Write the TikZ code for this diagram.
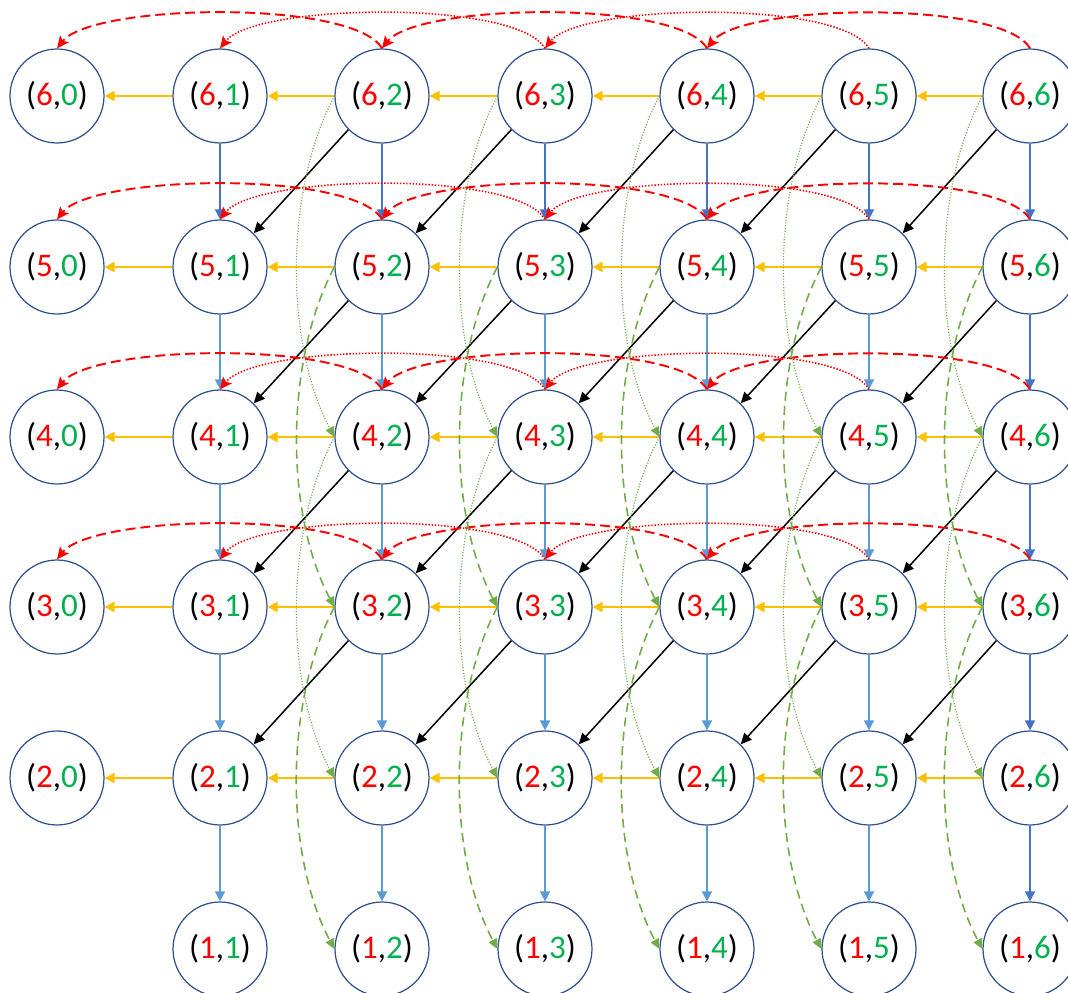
\documentclass[tikz,border=0pt]{standalone}
\usepackage{fontspec}
\setmainfont{Carlito}
\usetikzlibrary{arrows.meta}
\definecolor{cRed}{HTML}{FF0000}
\definecolor{cGreen}{HTML}{00B050}
\definecolor{cYel}{HTML}{FFC000}
\definecolor{cBlueD}{HTML}{4472C4}
\definecolor{cBlueL}{HTML}{5B9BD5}
\definecolor{cEdge}{HTML}{2F528F}
\definecolor{cGr}{HTML}{70AD47}
\newcommand\pl[2]{(\textcolor{cRed}{#1},\textcolor{cGreen}{#2})}
\begin{document}
\begin{tikzpicture}[x=0.02cm,y=0.02cm,
  st/.style={circle,draw=cEdge,line width=0.7pt,minimum size=1.88cm,inner sep=0pt,
    font=\fontsize{18.8}{20}\selectfont},
  yel/.style={draw=cYel,line width=1.2pt,-{Triangle[length=0.2cm,width=0.2cm]}},
  blu/.style={line width=0.9pt,-{Triangle[length=0.2cm,width=0.2cm]}},
  blk/.style={draw=black,line width=0.85pt,-{Triangle[length=0.22cm,width=0.2cm]}},
  rdash/.style={draw=cRed,line width=1.1pt,dash pattern=on 0.2cm off 0.1cm,
    -{Stealth[length=0.24cm,width=0.22cm,inset=0.05cm]}},
  rdot/.style={draw=cRed,line width=0.9pt,dash pattern=on 0.8pt off 1pt,
    -{Stealth[length=0.24cm,width=0.22cm,inset=0.05cm]}},
  gdash/.style={draw=cGr,line width=0.9pt,dash pattern=on 0.18cm off 0.11cm,
    -{Triangle[length=0.2cm,width=0.18cm]}},
  gdot/.style={draw=cGr,line width=0.7pt,dash pattern=on 0.6pt off 1pt,
    -{Triangle[length=0.2cm,width=0.18cm]}}
]
\useasboundingbox (0,0) rectangle (1068,992);
\clip (0,0) rectangle (1068,992);
% nodes
\foreach \i/\y in {6/896,5/725,4/555,3/385,2/214}
  \foreach \j/\x in {0/57,1/220,2/382,3/545,4/707,5/869,6/1030}
    \node[st] (n\i\j) at (\x,\y) {\pl{\i}{\j}};
\foreach \j/\x in {1/220,2/382,3/545,4/707,5/869,6/1030}
  \node[st] (n1\j) at (\x,43) {\pl{1}{\j}};
% yellow horizontal
\foreach \i in {2,...,6}
  \foreach \j [count=\k from 0] in {1,...,6}
    \draw[yel] (n\i\j.west) -- (n\i\k.east);
% blue vertical
\foreach \j in {1,...,5}
  \foreach \i [count=\k from 1] in {2,...,5}
    \draw[blu,draw=cBlueL] (n\i\j.south) -- (n\k\j.north);
\foreach \j in {1,...,6}
  \draw[blu,draw=cBlueD] (n6\j.south) -- (n5\j.north);
\foreach \i [count=\k from 1] in {2,...,5}
  \draw[blu,draw=cBlueD] (n\i6.south) -- (n\k6.north);
% black diagonals
\foreach \i [count=\k from 2] in {3,...,6}
  \foreach \j [count=\m from 1] in {2,...,6}
    \draw[blk] (n\i\j.south west) -- (n\k\m.north east);
% red arcs
\foreach \i in {3,...,6}{
  \foreach \j/\m in {2/0,4/2,6/4}
    \draw[rdash] (n\i\j.north) to[out=120,in=52,looseness=0.45] (n\i\m.north);
  \foreach \j/\m in {3/1,5/3}
    \draw[rdot] (n\i\j.north) to[out=120,in=52,looseness=0.45] (n\i\m.north);
}
% green arcs
\foreach \i/\k in {6/4,4/2}
  \foreach \j in {2,...,6}
    \draw[gdot] (n\i\j.west) to[out=242,in=118,looseness=0.8] (n\k\j.west);
\foreach \i/\k in {5/3,3/1}
  \foreach \j in {2,...,6}
    \draw[gdash] (n\i\j.west) to[out=242,in=118,looseness=0.8] (n\k\j.west);
\end{tikzpicture}
\end{document}
